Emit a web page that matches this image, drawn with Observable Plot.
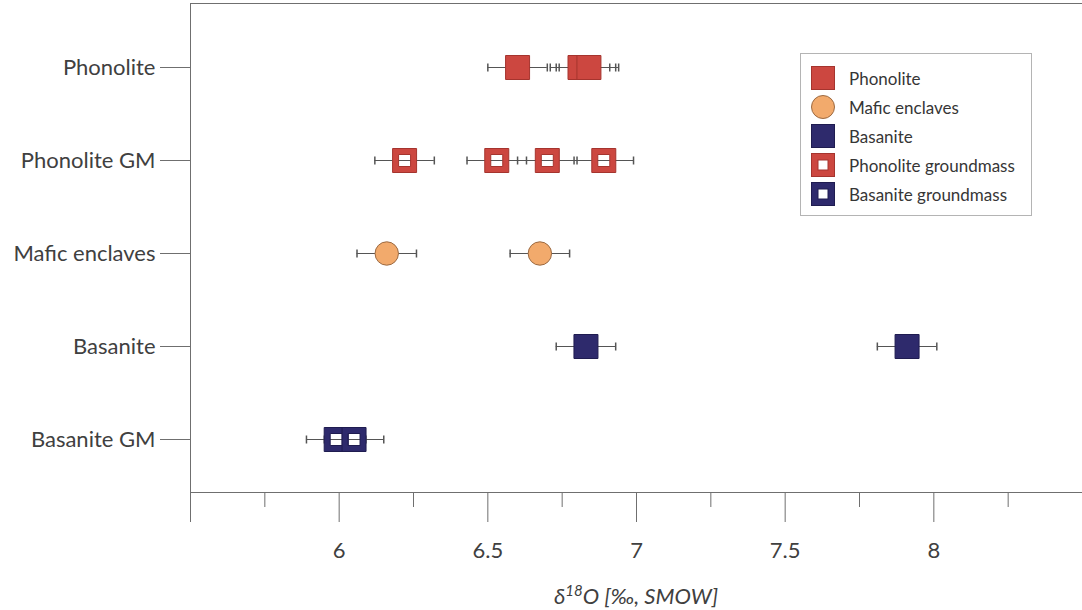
<!DOCTYPE html>
<html><head><meta charset="utf-8">
<script src="https://cdn.jsdelivr.net/npm/d3@7"></script>
<script src="https://cdn.jsdelivr.net/npm/@observablehq/plot@0.6"></script>
<style>
body{margin:0;background:#fff;}
#wrap{position:relative;width:1082px;height:610px;font-family:Lato,"Open Sans",sans-serif;}
#legend{position:absolute;left:800px;top:53px;width:232px;height:163px;border:1px solid #b4b4b4;box-sizing:border-box;background:#fff;}
.item{position:absolute;left:10px;height:24px;display:flex;align-items:center;font-size:17px;color:#363636;white-space:nowrap;}
.item svg{margin-right:14px;}
</style></head><body><div id="wrap"></div>
<script>
// ---- data ----
const categories = ["Phonolite", "Phonolite GM", "Mafic enclaves", "Basanite", "Basanite GM"];
const phonolite = [6.60, 6.83, 6.81, 6.84];
const phonoliteGM = [6.22, 6.53, 6.70, 6.89];
const maficEnclaves = [6.16, 6.675];
const basanite = [6.83, 7.91];
const basaniteGM = [5.99, 6.05];
const errorHalf = 0.1;
const majorTicks = [5.5, 6, 6.5, 7, 7.5, 8];
const majorTickLabels = ["", "6", "6.5", "7", "7.5", "8"];
const minorTicks = [5.75, 6.25, 6.75, 7.25, 7.75, 8.25];
const legendLabels = ["Phonolite", "Mafic enclaves", "Basanite", "Phonolite groundmass", "Basanite groundmass"];

const RED = "#cc4740", RED_S = "#a5342e";
const NAVY = "#2e2a6c", NAVY_S = "#1f1c50";
const ORANGE = "#f2aa6c", ORANGE_S = "#9c6a42";
const GRID = "#6f6f6f", TXT = "#404040", WHISK = "#555";

const squareSym = {draw(ctx, size) { const s = Math.sqrt(size) / 2; ctx.moveTo(-s, -s); ctx.lineTo(s, -s); ctx.lineTo(s, s); ctx.lineTo(-s, s); ctx.closePath(); }};
const hollowSym = {draw(ctx, size) {
  const s = Math.sqrt(size) / 2, h = s * 0.5;
  ctx.moveTo(-s, -s); ctx.lineTo(s, -s); ctx.lineTo(s, s); ctx.lineTo(-s, s); ctx.closePath();
  ctx.moveTo(-h, -h); ctx.lineTo(-h, h); ctx.lineTo(h, h); ctx.lineTo(h, -h); ctx.closePath();
}};
const capSym = {draw(ctx) { ctx.moveTo(0, -4); ctx.lineTo(0, 4); }};

const series = [
  {cat: "Phonolite", values: phonolite, fill: RED, stroke: RED_S, symbol: squareSym},
  {cat: "Phonolite GM", values: phonoliteGM, fill: RED, stroke: RED_S, symbol: hollowSym},
  {cat: "Mafic enclaves", values: maficEnclaves, fill: ORANGE, stroke: ORANGE_S, symbol: "circle"},
  {cat: "Basanite", values: basanite, fill: NAVY, stroke: NAVY_S, symbol: squareSym},
  {cat: "Basanite GM", values: basaniteGM, fill: NAVY, stroke: NAVY_S, symbol: hollowSym}
];
const rows = series.flatMap(s => s.values.map(v => ({cat: s.cat, v})));
const SQ_R = 24 / Math.sqrt(Math.PI);

const marks = [
  Plot.frame({anchor: "left", stroke: GRID}),
  Plot.frame({anchor: "top", stroke: GRID}),
  Plot.frame({anchor: "bottom", stroke: GRID}),
  Plot.axisX({ticks: majorTicks, tickSize: 30, tickPadding: 20, fontSize: 22,
    tickFormat: d => majorTickLabels[majorTicks.indexOf(d)], stroke: GRID, fill: TXT, label: null}),
  Plot.axisX({ticks: minorTicks, tickSize: 15, tickFormat: () => "", stroke: GRID, label: null}),
  Plot.axisY({tickSize: 30, tickPadding: 5, fontSize: 22, stroke: GRID, fill: TXT, label: null}),
  Plot.ruleY(rows, {y: "cat", x1: d => d.v - errorHalf, x2: d => d.v + errorHalf, stroke: WHISK}),
  Plot.dot(rows, {y: "cat", x: d => d.v - errorHalf, symbol: capSym, r: 4, fill: "none", stroke: WHISK}),
  Plot.dot(rows, {y: "cat", x: d => d.v + errorHalf, symbol: capSym, r: 4, fill: "none", stroke: WHISK}),
  ...series.map(s => Plot.dot(s.values, {
    x: d => d, y: () => s.cat, symbol: s.symbol,
    r: s.symbol === "circle" ? 11.7 : SQ_R,
    fill: s.fill, stroke: s.stroke, strokeWidth: 1
  }))
];

const chart = Plot.plot({
  width: 1082, height: 610,
  marginLeft: 190, marginRight: 0, marginTop: 3, marginBottom: 118,
  style: {fontFamily: "Lato, 'Open Sans', sans-serif", background: "#fff", color: TXT},
  x: {domain: [5.5, 8.5], label: null},
  y: {type: "point", domain: categories, range: [66, 440], padding: 0, label: null},
  marks
});

const svg = d3.select(chart);
const t = svg.append("text")
  .attr("x", 636).attr("y", 604).attr("text-anchor", "middle")
  .attr("font-size", 22).attr("font-style", "italic").attr("fill", TXT)
  .attr("font-family", "Lato, 'Open Sans', sans-serif");
t.append("tspan").text("δ");
t.append("tspan").attr("font-size", 15).attr("dy", -8).text("18");
t.append("tspan").attr("dy", 8).text("O [‰, SMOW]");

const wrap = document.getElementById("wrap");
wrap.appendChild(chart);

// legend
const legend = document.createElement("div");
legend.id = "legend";
const legendSyms = [
  `<rect x="0.5" y="0.5" width="23" height="23" fill="${RED}" stroke="${RED_S}"/>`,
  `<circle cx="12" cy="12" r="11.5" fill="${ORANGE}" stroke="${ORANGE_S}"/>`,
  `<rect x="0.5" y="0.5" width="23" height="23" fill="${NAVY}" stroke="${NAVY_S}"/>`,
  `<rect x="0.5" y="0.5" width="23" height="23" fill="${RED}" stroke="${RED_S}"/><rect x="7" y="7" width="10" height="10" fill="#fff" stroke="${RED_S}"/>`,
  `<rect x="0.5" y="0.5" width="23" height="23" fill="${NAVY}" stroke="${NAVY_S}"/><rect x="7" y="7" width="10" height="10" fill="#fff" stroke="${NAVY_S}"/>`
];
const legendY = [12, 41, 70, 99, 128];
legendLabels.forEach((lab, i) => {
  const it = document.createElement("div");
  it.className = "item";
  it.style.top = legendY[i] + "px";
  it.innerHTML = `<svg width="24" height="24">${legendSyms[i]}</svg><span>${lab}</span>`;
  legend.appendChild(it);
});
wrap.appendChild(legend);
</script>
</body></html>
